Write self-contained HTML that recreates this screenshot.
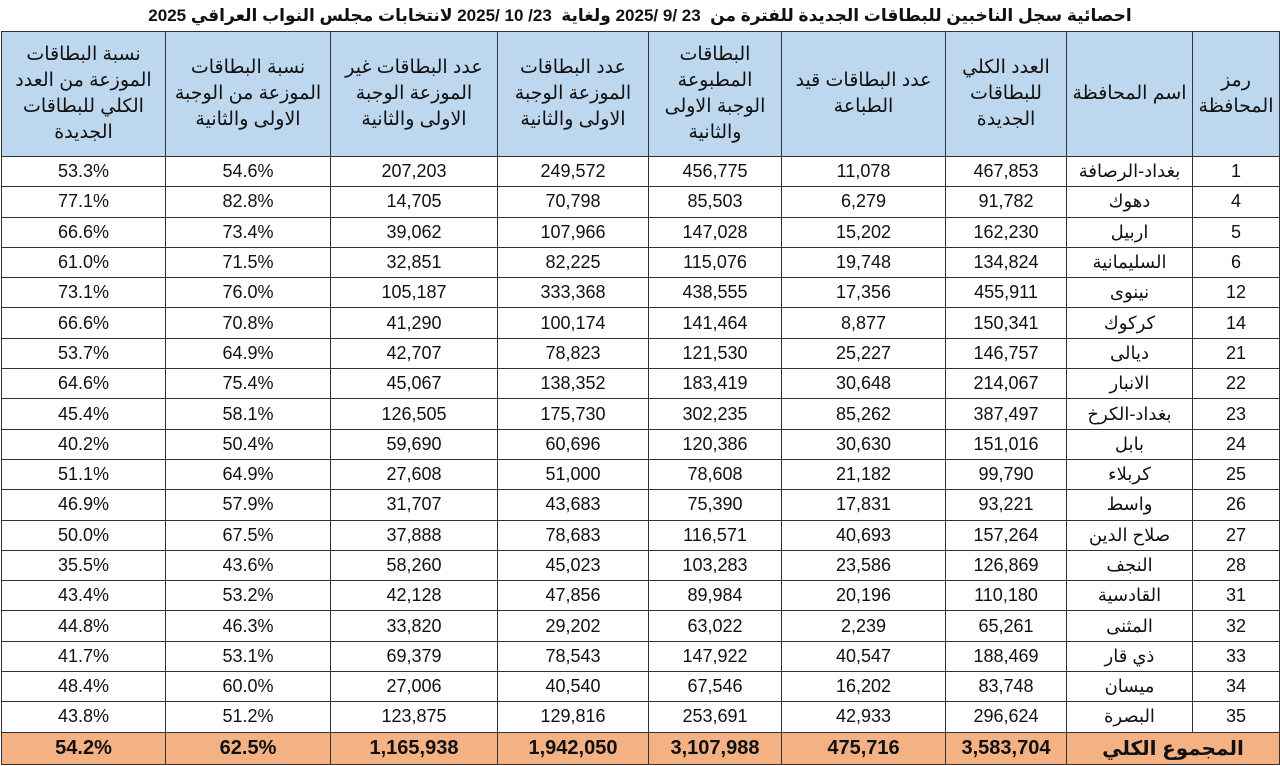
<!DOCTYPE html>
<html><head><meta charset="utf-8">
<style>
html,body{margin:0;padding:0;background:#fff;width:1280px;height:766px;overflow:hidden}
body{font-family:"Liberation Sans","Noto Sans CJK SC","DejaVu Sans",sans-serif;}
.title{position:absolute;left:0;top:0;width:1280px;height:31px;text-align:center;font-weight:bold;font-size:17px;line-height:31px;direction:rtl;color:#111}
table{position:absolute;left:1px;top:31px;border-collapse:collapse;table-layout:fixed;width:1278px}
td{border:1px solid #333;text-align:center;padding:0;font-size:18px;color:#111;white-space:nowrap;overflow:hidden}
tr.h td{background:#bdd7ee;height:124px;font-size:19px;white-space:normal;line-height:26px;direction:rtl;padding:0 8px}
tr.d td{height:29.3px;line-height:29px}
tr.f td{background:#f4b183;height:31px;font-weight:bold;font-size:20px}
td.n{direction:rtl}
</style></head><body>
<div class="title">احصائية سجل الناخبين للبطاقات الجديدة للفترة من &nbsp;23 /9 /2025 ولغاية &nbsp;23/ 10 /2025 لانتخابات مجلس النواب العراقي 2025</div>
<table>
<colgroup><col style="width:164px"><col style="width:165px"><col style="width:167px"><col style="width:151px"><col style="width:133px"><col style="width:164px"><col style="width:121px"><col style="width:126px"><col style="width:87px"></colgroup>
<tr class="h">
<td>نسبة البطاقات الموزعة من العدد الكلي للبطاقات الجديدة</td>
<td>نسبة البطاقات الموزعة من الوجبة الاولى والثانية</td>
<td>عدد البطاقات غير الموزعة الوجبة الاولى والثانية</td>
<td>عدد البطاقات الموزعة الوجبة الاولى والثانية</td>
<td>البطاقات المطبوعة الوجبة الاولى والثانية</td>
<td>عدد البطاقات قيد الطباعة</td>
<td>العدد الكلي للبطاقات الجديدة</td>
<td style="padding:0 2px">اسم المحافظة</td>
<td style="padding:0 2px">رمز المحافظة</td>
</tr>
<tr class="d"><td>53.3%</td><td>54.6%</td><td>207,203</td><td>249,572</td><td>456,775</td><td>11,078</td><td>467,853</td><td class="n">بغداد-الرصافة</td><td>1</td></tr>
<tr class="d"><td>77.1%</td><td>82.8%</td><td>14,705</td><td>70,798</td><td>85,503</td><td>6,279</td><td>91,782</td><td class="n">دهوك</td><td>4</td></tr>
<tr class="d"><td>66.6%</td><td>73.4%</td><td>39,062</td><td>107,966</td><td>147,028</td><td>15,202</td><td>162,230</td><td class="n">اربيل</td><td>5</td></tr>
<tr class="d"><td>61.0%</td><td>71.5%</td><td>32,851</td><td>82,225</td><td>115,076</td><td>19,748</td><td>134,824</td><td class="n">السليمانية</td><td>6</td></tr>
<tr class="d"><td>73.1%</td><td>76.0%</td><td>105,187</td><td>333,368</td><td>438,555</td><td>17,356</td><td>455,911</td><td class="n">نينوى</td><td>12</td></tr>
<tr class="d"><td>66.6%</td><td>70.8%</td><td>41,290</td><td>100,174</td><td>141,464</td><td>8,877</td><td>150,341</td><td class="n">كركوك</td><td>14</td></tr>
<tr class="d"><td>53.7%</td><td>64.9%</td><td>42,707</td><td>78,823</td><td>121,530</td><td>25,227</td><td>146,757</td><td class="n">ديالى</td><td>21</td></tr>
<tr class="d"><td>64.6%</td><td>75.4%</td><td>45,067</td><td>138,352</td><td>183,419</td><td>30,648</td><td>214,067</td><td class="n">الانبار</td><td>22</td></tr>
<tr class="d"><td>45.4%</td><td>58.1%</td><td>126,505</td><td>175,730</td><td>302,235</td><td>85,262</td><td>387,497</td><td class="n">بغداد-الكرخ</td><td>23</td></tr>
<tr class="d"><td>40.2%</td><td>50.4%</td><td>59,690</td><td>60,696</td><td>120,386</td><td>30,630</td><td>151,016</td><td class="n">بابل</td><td>24</td></tr>
<tr class="d"><td>51.1%</td><td>64.9%</td><td>27,608</td><td>51,000</td><td>78,608</td><td>21,182</td><td>99,790</td><td class="n">كربلاء</td><td>25</td></tr>
<tr class="d"><td>46.9%</td><td>57.9%</td><td>31,707</td><td>43,683</td><td>75,390</td><td>17,831</td><td>93,221</td><td class="n">واسط</td><td>26</td></tr>
<tr class="d"><td>50.0%</td><td>67.5%</td><td>37,888</td><td>78,683</td><td>116,571</td><td>40,693</td><td>157,264</td><td class="n">صلاح الدين</td><td>27</td></tr>
<tr class="d"><td>35.5%</td><td>43.6%</td><td>58,260</td><td>45,023</td><td>103,283</td><td>23,586</td><td>126,869</td><td class="n">النجف</td><td>28</td></tr>
<tr class="d"><td>43.4%</td><td>53.2%</td><td>42,128</td><td>47,856</td><td>89,984</td><td>20,196</td><td>110,180</td><td class="n">القادسية</td><td>31</td></tr>
<tr class="d"><td>44.8%</td><td>46.3%</td><td>33,820</td><td>29,202</td><td>63,022</td><td>2,239</td><td>65,261</td><td class="n">المثنى</td><td>32</td></tr>
<tr class="d"><td>41.7%</td><td>53.1%</td><td>69,379</td><td>78,543</td><td>147,922</td><td>40,547</td><td>188,469</td><td class="n">ذي قار</td><td>33</td></tr>
<tr class="d"><td>48.4%</td><td>60.0%</td><td>27,006</td><td>40,540</td><td>67,546</td><td>16,202</td><td>83,748</td><td class="n">ميسان</td><td>34</td></tr>
<tr class="d"><td>43.8%</td><td>51.2%</td><td>123,875</td><td>129,816</td><td>253,691</td><td>42,933</td><td>296,624</td><td class="n">البصرة</td><td>35</td></tr>
<tr class="f"><td>54.2%</td><td>62.5%</td><td>1,165,938</td><td>1,942,050</td><td>3,107,988</td><td>475,716</td><td>3,583,704</td><td colspan="2" class="n">المجموع الكلي</td></tr>
</table>
</body></html>
